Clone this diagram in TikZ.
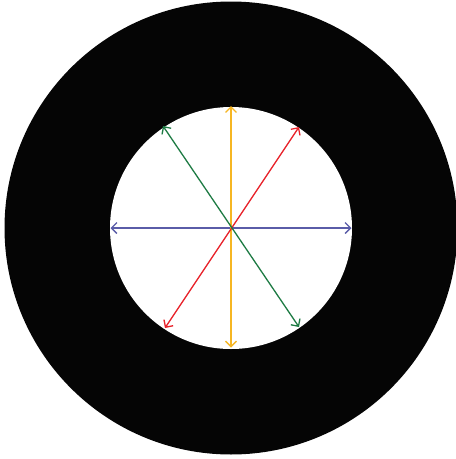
\documentclass[tikz,border=0pt]{standalone}
\usetikzlibrary{arrows.meta,calc}
\definecolor{ringblack}{HTML}{050505}
\definecolor{axblue}{HTML}{5A5CA8}
\definecolor{axyellow}{HTML}{F6B623}
\definecolor{axred}{HTML}{E8232B}
\definecolor{axgreen}{HTML}{1E7B44}
\tikzset{
  axis/.style={line width=1.3pt, {Straight Barb[length=5.5pt,width=11pt]}-{Straight Barb[length=5.5pt,width=11pt]}},
}
\begin{document}
\begin{tikzpicture}[x=1pt,y=-1pt]
\useasboundingbox (0,0) rectangle (456,459);
\coordinate (c) at (231,228);
\fill[ringblack] (c) circle[radius=226.5];
\fill[white] (c) circle[radius=121];
\coordinate (bl) at ($(c)+(-120.5,0)$);
\coordinate (br) at ($(c)+(120.5,0)$);
\coordinate (yt) at ($(c)+(0,-122)$);
\coordinate (yb) at ($(c)+(0,119.5)$);
\coordinate (rt) at ($(c)+(68,-101)$);
\coordinate (rb) at ($(c)+(-66,100)$);
\coordinate (gt) at ($(c)+(-68,-102)$);
\coordinate (gb) at ($(c)+(68,99)$);
\draw[axis, axblue] (bl) -- (br);
\draw[axis, axyellow] (yb) -- (yt);
\draw[axis, axred] (rb) -- (rt);
\draw[axis, axgreen] (gt) -- (gb);
\end{tikzpicture}
\end{document}
